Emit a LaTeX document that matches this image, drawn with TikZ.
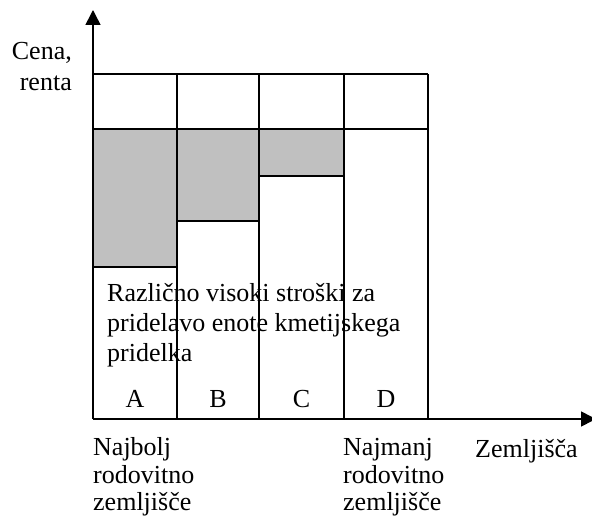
\documentclass[tikz,border=0pt]{standalone}
\usepackage{fontspec}
\setmainfont{Liberation Serif}
\usetikzlibrary{arrows.meta}
\definecolor{cellgray}{HTML}{C0C0C0}
\begin{document}
\begin{tikzpicture}[x=1pt,y=-1pt,
  line/.style={line width=1.6pt, draw=black},
  shade/.style={fill=cellgray, draw=black, line width=1.6pt},
  axis/.style={line width=1.6pt, -{Triangle[length=15pt,width=15pt]}},
  lbl/.style={font=\fontsize{26}{30}\selectfont, inner sep=0pt},
]
\useasboundingbox (0,0) rectangle (592,516);
% coordinates
\coordinate (O) at (93,419);
\coordinate (ytip) at (93,10);
\coordinate (xtip) at (596,419);
% gray fills
\draw[shade] (93,129) rectangle (177,267);
\draw[shade] (177,129) rectangle (259,221);
\draw[shade] (259,129) rectangle (344,176);
% grid lines
\draw[line] (93,74) -- (428,74);
\draw[line] (93,129) -- (428,129);
\draw[line] (177,74) -- (177,419);
\draw[line] (259,74) -- (259,419);
\draw[line] (344,74) -- (344,419);
\draw[line] (428,74) -- (428,419);
% axes
\draw[axis] (O) -- (ytip);
\draw[axis] (O) -- (xtip);
% labels
\node[lbl, anchor=base east] (cena) at (72,60) {Cena,};
\node[lbl, anchor=base east] (renta) at (72,91) {renta};
\node[lbl, anchor=base west] (t1) at (107,301) {Različno visoki stroški za};
\node[lbl, anchor=base west] (t2) at (107,331) {pridelavo enote kmetijskega};
\node[lbl, anchor=base west] (t3) at (107,361) {pridelka};
\node[lbl, anchor=base] (A) at (135,407) {A};
\node[lbl, anchor=base] (B) at (218,407) {B};
\node[lbl, anchor=base] (C) at (301.5,407) {C};
\node[lbl, anchor=base] (D) at (386,407) {D};
\node[lbl, anchor=base west] (n1) at (93,455) {Najbolj};
\node[lbl, anchor=base west] (n2) at (93,483) {rodovitno};
\node[lbl, anchor=base west] (n3) at (93,510) {zemljišče};
\node[lbl, anchor=base west] (m1) at (343,455) {Najmanj};
\node[lbl, anchor=base west] (m2) at (343,483) {rodovitno};
\node[lbl, anchor=base west] (m3) at (343,510) {zemljišče};
\node[lbl, anchor=base west] (z) at (475,457) {Zemljišča};
\end{tikzpicture}
\end{document}
